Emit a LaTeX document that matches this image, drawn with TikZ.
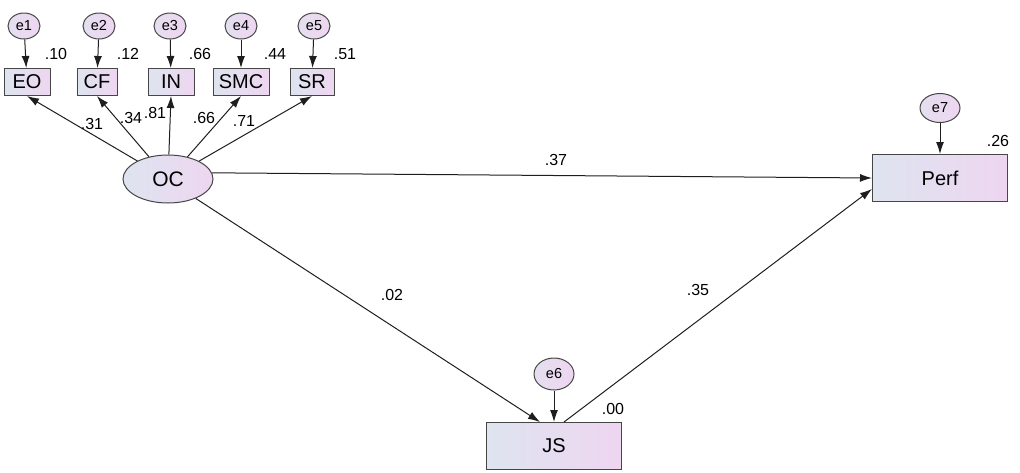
\documentclass[tikz,border=0pt]{standalone}
\usepackage{fontspec}
\setmainfont{Liberation Sans}
\usetikzlibrary{arrows.meta,shapes.geometric}
\definecolor{fillL}{RGB}{222,228,240}
\definecolor{fillR}{RGB}{238,214,240}
\definecolor{lineC}{RGB}{30,30,30}
\definecolor{edgeC}{RGB}{70,70,70}
\tikzset{
  obs/.style={draw=edgeC, line width=1pt, left color=fillL, right color=fillR, inner sep=0pt, font=\fontsize{20}{20}\selectfont},
  lat/.style={ellipse, draw=edgeC, line width=1pt, left color=fillL, right color=fillR, inner sep=0pt, font=\fontsize{21}{21}\selectfont},
  err/.style={ellipse, draw=edgeC, line width=1pt, left color=fillL!60!fillR, right color=fillR, inner sep=0pt, font=\fontsize{14.5}{14.5}\selectfont},
  arr/.style={draw=lineC, line width=1pt, -{Latex[length=12pt,width=8pt]}},
  num/.style={font=\fontsize{16}{16}\selectfont, inner sep=0pt}
}
\begin{document}
\begin{tikzpicture}[x=1pt,y=-1pt]
\useasboundingbox (0,0) rectangle (1020,472);
% observed indicators
\node[obs, minimum width=46pt, minimum height=27pt] (EO) at (27,82) {EO};
\node[obs, minimum width=40pt, minimum height=27pt] (CF) at (97,82) {CF};
\node[obs, minimum width=46pt, minimum height=27pt] (IN) at (171,82) {IN};
\node[obs, minimum width=56pt, minimum height=27pt] (SMC) at (241,82) {SMC};
\node[obs, minimum width=44pt, minimum height=27pt] (SR) at (312,82) {SR};
% errors
\node[err, minimum width=32pt, minimum height=26pt] (e1) at (24,26) {e1};
\node[err, minimum width=32pt, minimum height=26pt] (e2) at (99,26) {e2};
\node[err, minimum width=32pt, minimum height=26pt] (e3) at (170,26) {e3};
\node[err, minimum width=32pt, minimum height=26pt] (e4) at (241,26) {e4};
\node[err, minimum width=32pt, minimum height=26pt] (e5) at (314,26) {e5};
% latent
\node[lat, minimum width=90pt, minimum height=48pt] (OC) at (168,179) {OC};
% outcomes
\node[obs, minimum width=135pt, minimum height=47pt] (Perf) at (940,178) {Perf};
\node[obs, minimum width=135pt, minimum height=47pt] (JS) at (554,446) {JS};
\node[err, minimum width=40pt, minimum height=29pt] (e7) at (940,108) {e7};
\node[err, minimum width=40pt, minimum height=32pt] (e6) at (554,374) {e6};
% error arrows
\foreach \e/\v in {e1/EO,e2/CF,e3/IN,e4/SMC,e5/SR,e6/JS,e7/Perf}
  \draw[arr] (\e) -- (\v);
% loadings
\foreach \v in {EO,CF,IN,SMC,SR}
  \draw[arr] (OC) -- (\v.south);
% structural paths
\draw[arr] (OC.8) -- (Perf.west);
\draw[arr] (OC.-35) -- ([xshift=-14pt]JS.north);
\draw[arr] ([xshift=10pt]JS.north) -- ([yshift=-11pt]Perf.west);
% numbers
\node[num] (n1) at (56,54) {.10};
\node[num] (n2) at (128,54) {.12};
\node[num] (n3) at (200,54) {.66};
\node[num] (n4) at (275,54) {.44};
\node[num] (n5) at (345,54) {.51};
\node[num] (l1) at (92,124) {.31};
\node[num] (l2) at (131,118) {.34};
\node[num] (l3) at (155,113) {.81};
\node[num] (l4) at (204,118) {.66};
\node[num] (l5) at (244,121) {.71};
\node[num] (p1) at (556,160) {.37};
\node[num] (p2) at (392,295) {.02};
\node[num] (p3) at (698,290) {.35};
\node[num] (r6) at (613,409) {.00};
\node[num] (r7) at (998,141) {.26};
\end{tikzpicture}
\end{document}
